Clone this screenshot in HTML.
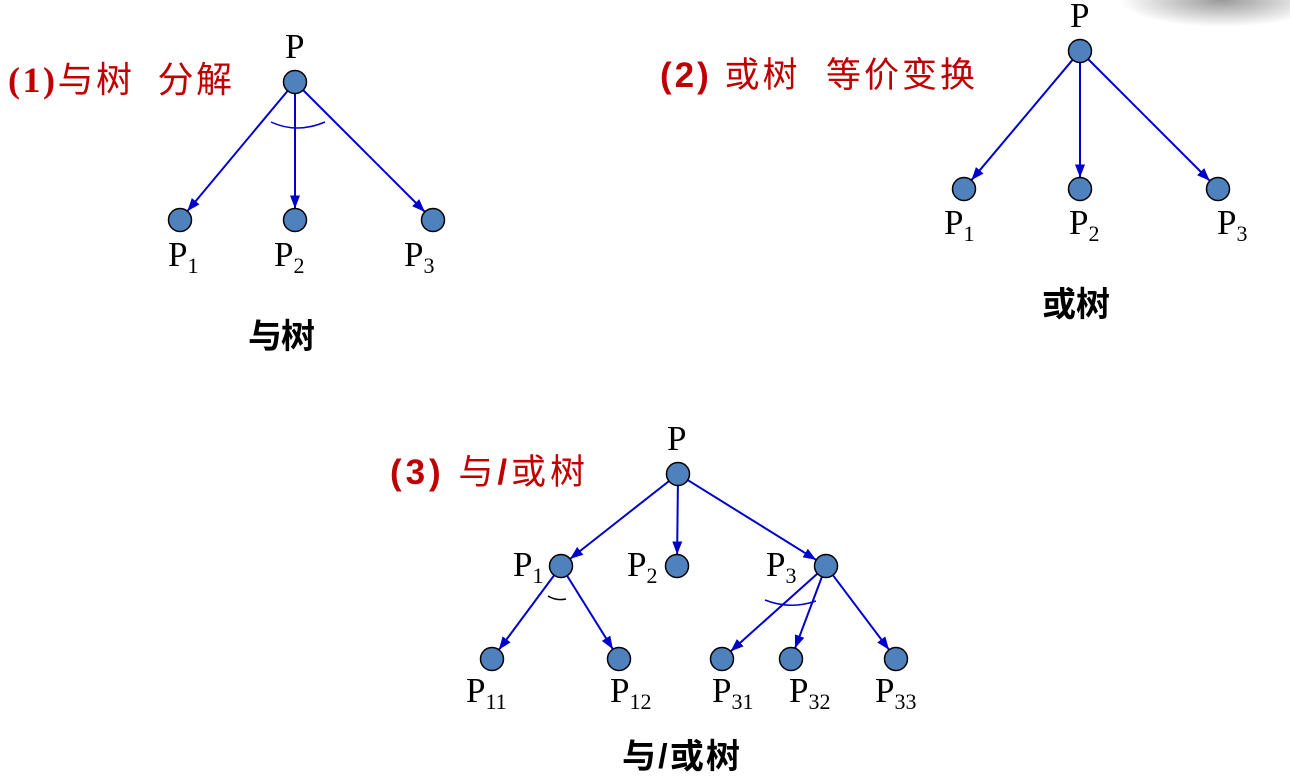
<!DOCTYPE html>
<html><head><meta charset="utf-8"><style>
html,body{margin:0;padding:0;background:#fff;width:1290px;height:784px;overflow:hidden}
svg{display:block}
.r{font-family:"Liberation Serif","Noto Sans CJK SC",serif;fill:#c00000;font-size:36px}
.rs{font-family:"Liberation Sans","Noto Sans CJK SC",sans-serif;fill:#c00000;font-size:35px}
.bb{font-weight:bold}
.b{font-family:"Liberation Sans","Noto Sans CJK SC",sans-serif;font-weight:bold;font-size:34px;fill:#000}
.p{font-family:"Liberation Serif",serif;font-size:35px;fill:#000}
.s{font-size:22px}
</style></head><body>
<svg id="s" width="1290" height="784" xmlns="http://www.w3.org/2000/svg">
<defs>
<marker id="a" markerWidth="13" markerHeight="10" refX="13" refY="5" orient="auto" markerUnits="userSpaceOnUse"><path d="M0,0 L13,5 L0,10 z" fill="#0000cc"/></marker>
<radialGradient id="g" cx="0.6" cy="0" r="0.6"><stop offset="0" stop-color="#999"/><stop offset="1" stop-color="#fff"/></radialGradient>
</defs>
<rect x="1120" y="0" width="170" height="45" fill="url(#g)"/>
<g id="lines" stroke="#0000cc" stroke-width="2" fill="none"></g>
<g id="nodes" fill="#4f81bd" stroke="#000" stroke-width="1.5"></g>
<path d="M271,122 Q297,134 325,122" stroke="#0000cc" stroke-width="1.5" fill="none"/>
<path d="M548,596 Q556,601 566,599" stroke="#000" stroke-width="1.5" fill="none"/>
<path d="M765,600 Q790,610 816,601" stroke="#0000cc" stroke-width="1.5" fill="none"/>
<text class="r" x="8" y="92" textLength="224" lengthAdjust="spacing"><tspan class="bb">(1)</tspan>与树&#160;&#160;分解</text>
<text class="rs" x="660" y="87" textLength="315" lengthAdjust="spacing"><tspan class="bb">(2)</tspan> 或树&#160;&#160;等价变换</text>
<text class="rs" x="390" y="484" textLength="195" lengthAdjust="spacing"><tspan class="bb">(3)</tspan> 与<tspan class="bb">/</tspan>或树</text>
<text class="b" x="248" y="348" textLength="67">与树</text>
<text class="b" x="1042" y="316" textLength="68">或树</text>
<text class="b" x="622" y="768" textLength="118">与/或树</text>
<text class="p" x="285" y="58">P</text>
<text class="p" x="168" y="266">P<tspan class="s" dy="7">1</tspan></text>
<text class="p" x="274" y="266">P<tspan class="s" dy="7">2</tspan></text>
<text class="p" x="404" y="266">P<tspan class="s" dy="7">3</tspan></text>
<text class="p" x="1070" y="27">P</text>
<text class="p" x="944" y="234">P<tspan class="s" dy="7">1</tspan></text>
<text class="p" x="1069" y="234">P<tspan class="s" dy="7">2</tspan></text>
<text class="p" x="1217" y="234">P<tspan class="s" dy="7">3</tspan></text>
<text class="p" x="667" y="450">P</text>
<text class="p" x="513" y="576">P<tspan class="s" dy="7">1</tspan></text>
<text class="p" x="627" y="576">P<tspan class="s" dy="7">2</tspan></text>
<text class="p" x="766" y="576">P<tspan class="s" dy="7">3</tspan></text>
<text class="p" x="466" y="702">P<tspan class="s" dy="7">11</tspan></text>
<text class="p" x="610" y="702">P<tspan class="s" dy="7">12</tspan></text>
<text class="p" x="712" y="702">P<tspan class="s" dy="7">31</tspan></text>
<text class="p" x="789" y="702">P<tspan class="s" dy="7">32</tspan></text>
<text class="p" x="875" y="702">P<tspan class="s" dy="7">33</tspan></text>
</svg>
<script>
var E=[[[295,82],[[180,220],[295,220],[433,220]]],
[[1080,51],[[964,189],[1080,189],[1218,189]]],
[[678,474],[[561,566],[677,566],[826,566]]],
[[561,566],[[492,659],[619,659]]],
[[826,566],[[722,659],[791,659],[896,659]]]];
var L=document.getElementById('lines'),N=document.getElementById('nodes'),ns='http://www.w3.org/2000/svg',r=11.5,seen={};
function node(p){var k=p.join();if(seen[k])return;seen[k]=1;var c=document.createElementNS(ns,'circle');c.setAttribute('cx',p[0]);c.setAttribute('cy',p[1]);c.setAttribute('r',r);N.appendChild(c);}
E.forEach(function(e){var a=e[0];node(a);e[1].forEach(function(b){node(b);var dx=b[0]-a[0],dy=b[1]-a[1],d=Math.hypot(dx,dy);
var l=document.createElementNS(ns,'line');l.setAttribute('x1',a[0]+dx/d*r);l.setAttribute('y1',a[1]+dy/d*r);l.setAttribute('x2',b[0]-dx/d*r);l.setAttribute('y2',b[1]-dy/d*r);l.setAttribute('marker-end','url(#a)');L.appendChild(l);});});
</script>
</body></html>
